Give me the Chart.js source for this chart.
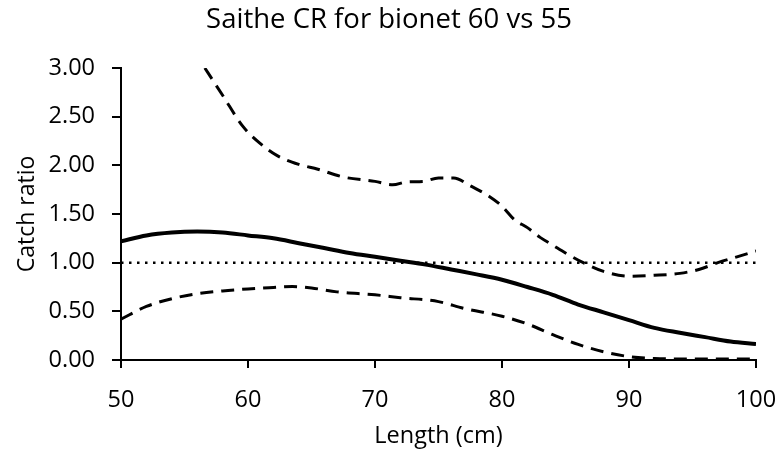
<!DOCTYPE html>
<html>
<head>
<meta charset="utf-8">
<script src="https://cdn.jsdelivr.net/npm/chart.js@4/dist/chart.umd.min.js"></script>
<style>
  html, body { margin: 0; padding: 0; background: #fff; }
  #wrap { width: 778px; height: 450px; }
</style>
</head>
<body>
<div id="wrap"><canvas id="c" width="778" height="450"></canvas></div>
<script>
const chartTitle = "Saithe CR for bionet 60 vs 55";
const xTitle = "Length (cm)";
const yTitle = "Catch ratio";

const mainLength = [50,52,54,56,58,60,62,64,66,68,70,72,74,76,78,80,82,84,86,88,90,92,94,96,98,100];
const mainRatio  = [1.22,1.28,1.31,1.32,1.31,1.28,1.25,1.20,1.15,1.10,1.06,1.02,0.98,0.93,0.88,0.825,0.75,0.67,0.57,0.49,0.41,0.33,0.28,0.235,0.19,0.165];

const upperLength = [56.6,58,59.6,61,62.3,64,65.5,67.5,70,71.4,72.5,73.8,75,76.2,77.5,79,80,81,82,83,84,85,86.4,88,90,92,94,95.5,97,98.5,100];
const upperRatio  = [3.0,2.72,2.40,2.22,2.10,2.01,1.96,1.88,1.835,1.80,1.83,1.835,1.87,1.87,1.79,1.68,1.58,1.44,1.36,1.26,1.18,1.10,1.00,0.91,0.86,0.87,0.89,0.93,1.00,1.06,1.12];

const lowerLength = [50,52,54,56,58,60,62,63.5,65,67,70,72,75,77,80,82,84,86,88,90,92,95,100];
const lowerRatio  = [0.42,0.55,0.63,0.68,0.71,0.73,0.745,0.755,0.74,0.70,0.67,0.64,0.60,0.53,0.45,0.37,0.26,0.16,0.085,0.035,0.015,0.01,0.01];

const refLength = [50,100];
const refRatio = [1,1];

function pts(xs, ys) { return xs.map((x, i) => ({x: x, y: ys[i]})); }

const FONT = "'Open Sans', sans-serif";

new Chart(document.getElementById('c'), {
  type: 'line',
  data: {
    datasets: [
      { data: pts(refLength, refRatio), borderColor: '#000', borderWidth: 2.5, borderDash: [2.5, 5.5], pointRadius: 0, tension: 0 },
      { data: pts(upperLength, upperRatio), borderColor: '#000', borderWidth: 3, borderDash: [13, 8], pointRadius: 0, cubicInterpolationMode: 'monotone' },
      { data: pts(lowerLength, lowerRatio), borderColor: '#000', borderWidth: 3, borderDash: [13, 8], pointRadius: 0, cubicInterpolationMode: 'monotone' },
      { data: pts(mainLength, mainRatio), borderColor: '#000', borderWidth: 4, pointRadius: 0, cubicInterpolationMode: 'monotone' }
    ]
  },
  options: {
    responsive: false,
    animation: false,
    devicePixelRatio: 1,
    layout: { padding: { left: 14, right: 14, top: 0, bottom: 0 } },
    plugins: {
      legend: { display: false },
      tooltip: { enabled: false },
      title: {
        display: true, text: chartTitle, color: '#000',
        font: { family: FONT, size: 27.5, weight: 'normal' },
        padding: { top: 4, bottom: 31 }
      }
    },
    scales: {
      x: {
        type: 'linear', min: 50, max: 100,
        ticks: { stepSize: 10, color: '#000', font: { family: FONT, size: 23.5 }, padding: 18 },
        grid: { display: true, drawOnChartArea: false, drawTicks: true, tickLength: 8, color: '#000', lineWidth: 2 },
        border: { color: '#000', width: 2 },
        title: { display: true, text: xTitle, color: '#000', font: { family: FONT, size: 23.5 }, padding: { top: 0, bottom: 0 } },
        afterFit: s => { s.height = 90; s.paddingLeft = 0; s.paddingRight = 22; }
      },
      y: {
        min: 0, max: 3,
        ticks: { stepSize: 0.5, color: '#000', font: { family: FONT, size: 23.5 }, padding: 17, callback: v => Number(v).toFixed(2) },
        grid: { display: true, drawOnChartArea: false, drawTicks: true, tickLength: 9, color: '#000', lineWidth: 2 },
        border: { color: '#000', width: 2 },
        title: { display: true, text: yTitle, color: '#000', font: { family: FONT, size: 23 }, padding: { top: 0, bottom: 0 } },
        afterFit: s => { s.width = 107; }
      }
    }
  }
});
</script>
</body>
</html>
